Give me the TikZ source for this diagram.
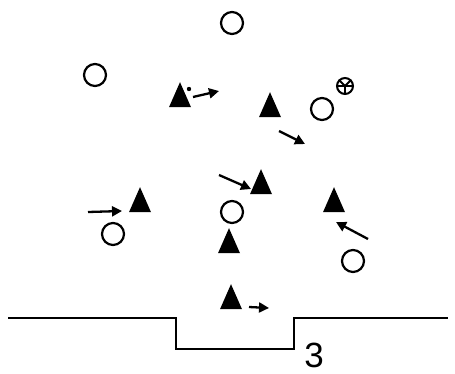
\documentclass[tikz,border=0pt]{standalone}
\usepackage{fontspec}
\setsansfont{Liberation Sans}
\usetikzlibrary{arrows.meta,shapes.geometric}

\tikzset{
  player/.style={isosceles triangle, shape border rotate=90, isosceles triangle stretches,
    minimum width=22pt, minimum height=25pt, inner sep=0pt, fill=black},
  opp/.style={circle, draw, line width=2.2pt, minimum size=22pt, inner sep=0pt},
  ball/.style={circle, draw, line width=2pt, minimum size=16pt, inner sep=0pt},
  run/.style={line width=2.3pt, -{Triangle[length=10pt,width=10pt]}}
}

\begin{document}
\begin{tikzpicture}[x=1pt, y=-1pt]
    \useasboundingbox (0,0) rectangle (455,373);
    % defenders
    \node[opp] (o1) at (232,23) {};
    \node[opp] (o2) at (95,75) {};
    \node[opp] (o3) at (322,109) {};
    \node[opp] (o4) at (232,212) {};
    \node[opp] (o5) at (113,234) {};
    \node[opp] (o6) at (353,261) {};
    % ball
    \node[ball] (b) at (345,86) {};
    \draw[line width=1.8pt] (b.west) -- (b.east);
    \draw[line width=1.8pt] (b.center) -- (b.south);
    \draw[line width=1.8pt] (b.center) -- (b.north west);
    \draw[line width=1.8pt] (b.center) -- (b.north east);
    % attackers
    \node[player] (p1) at (180,100) {};
    \node[player] (p2) at (270,110) {};
    \node[player] (p3) at (140,205) {};
    \node[player] (p4) at (261,187) {};
    \node[player] (p5) at (229,246) {};
    \node[player] (p6) at (334,205) {};
    \node[player] (p7) at (231,302) {};
    \fill (189,89) circle (2.2pt);
    % runs
    \coordinate (r1a) at (193,97);  \coordinate (r1b) at (219,91);
    \coordinate (r2a) at (279,131); \coordinate (r2b) at (305,144);
    \coordinate (r3a) at (88,212);  \coordinate (r3b) at (122,211);
    \coordinate (r4a) at (219,175); \coordinate (r4b) at (251,189);
    \coordinate (r5a) at (368,239); \coordinate (r5b) at (336,222);
    \coordinate (r6a) at (249,307); \coordinate (r6b) at (269,308);
    \draw[run] (r1a) -- (r1b);
    \draw[run] (r2a) -- (r2b);
    \draw[run] (r3a) -- (r3b);
    \draw[run] (r4a) -- (r4b);
    \draw[run] (r5a) -- (r5b);
    \draw[run] (r6a) -- (r6b);
    % goal line
    \draw[line width=2pt] (8,318) -- (176,318) -- (176,349) -- (294,349) -- (294,318) -- (448,318);
    \node[font=\fontsize{35}{35}\selectfont\sffamily, inner sep=0pt, anchor=center] (n3) at (314,355) {3};
\end{tikzpicture}
\end{document}
